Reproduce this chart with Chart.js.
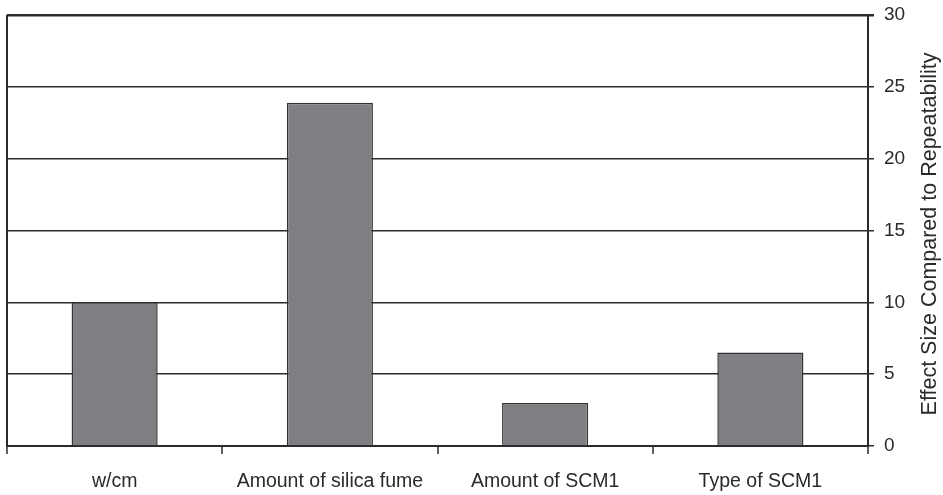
<!DOCTYPE html>
<html>
<head>
<meta charset="utf-8">
<script src="https://cdn.jsdelivr.net/npm/chart.js@4.4.1/dist/chart.umd.min.js"></script>
<style>
  html, body { margin: 0; padding: 0; background: #fff; }
  #mycanvas { display: block; }
</style>
</head>
<body>
<canvas id="mycanvas" width="943" height="495"></canvas>
<script>
var categories = ["w/cm", "Amount of silica fume", "Amount of SCM1", "Type of SCM1"];
var effectSize = [10, 23.9, 3, 6.5];
var yTicks = [0, 5, 10, 15, 20, 25, 30];
var yTitle = "Effect Size Compared to Repeatability";

var dark = "#2a2a2a";
var font = "'Liberation Sans', Arial, sans-serif";

// right axis title reads bottom-to-top, so draw it by hand
var rightTitle = {
  id: "rightTitle",
  afterDraw: function(chart) {
    var ctx = chart.ctx;
    ctx.save();
    ctx.translate(930, 234);
    ctx.rotate(-Math.PI / 2);
    ctx.font = "21.5px " + font;
    ctx.fillStyle = dark;
    ctx.textAlign = "center";
    ctx.textBaseline = "middle";
    ctx.fillText(yTitle, 0, 0);
    ctx.restore();
  }
};

var chartdata = {
  labels: categories,
  datasets: [{
    label: yTitle,
    data: effectSize,
    backgroundColor: "#7e7f83",
    borderColor: "#333333",
    borderWidth: 1.5,
    categoryPercentage: 0.8,
    barPercentage: 0.5
  }]
};

var ctx = document.getElementById("mycanvas");
var barGraph = new Chart(ctx, {
  type: "bar",
  data: chartdata,
  plugins: [rightTitle],
  options: {
    responsive: false,
    animation: false,
    layout: { padding: { left: 7, top: 15, right: 0, bottom: 0 } },
    plugins: { legend: { display: false }, tooltip: { enabled: false } },
    scales: {
      x: {
        afterFit: function(s) { s.height = 49; s.paddingLeft = 0; s.paddingRight = 0; },
        grid: {
          offset: true,
          drawOnChartArea: true,
          color: function(c) { return c.index === 0 ? dark : "rgba(0,0,0,0)"; },
          lineWidth: 2,
          tickColor: dark,
          tickWidth: 1.5,
          tickLength: 8
        },
        border: { display: true, color: dark, width: 2 },
        ticks: { color: dark, font: { family: font, size: 19.5 }, padding: 16, maxRotation: 0 }
      },
      y: {
        position: "right",
        min: yTicks[0],
        max: yTicks[yTicks.length - 1],
        afterFit: function(s) { s.width = 75; s.paddingTop = 0; s.paddingBottom = 0; },
        afterBuildTicks: function(s) { s.ticks = yTicks.map(function(v) { return { value: v }; }); },
        grid: {
          color: dark,
          lineWidth: function(c) { return c.tick && c.tick.value === 30 ? 2.5 : 1.5; },
          tickLength: 6
        },
        border: { display: true, color: dark, width: 2 },
        ticks: { color: dark, font: { family: font, size: 19 }, padding: 10 }
      }
    }
  }
});
</script>
</body>
</html>
